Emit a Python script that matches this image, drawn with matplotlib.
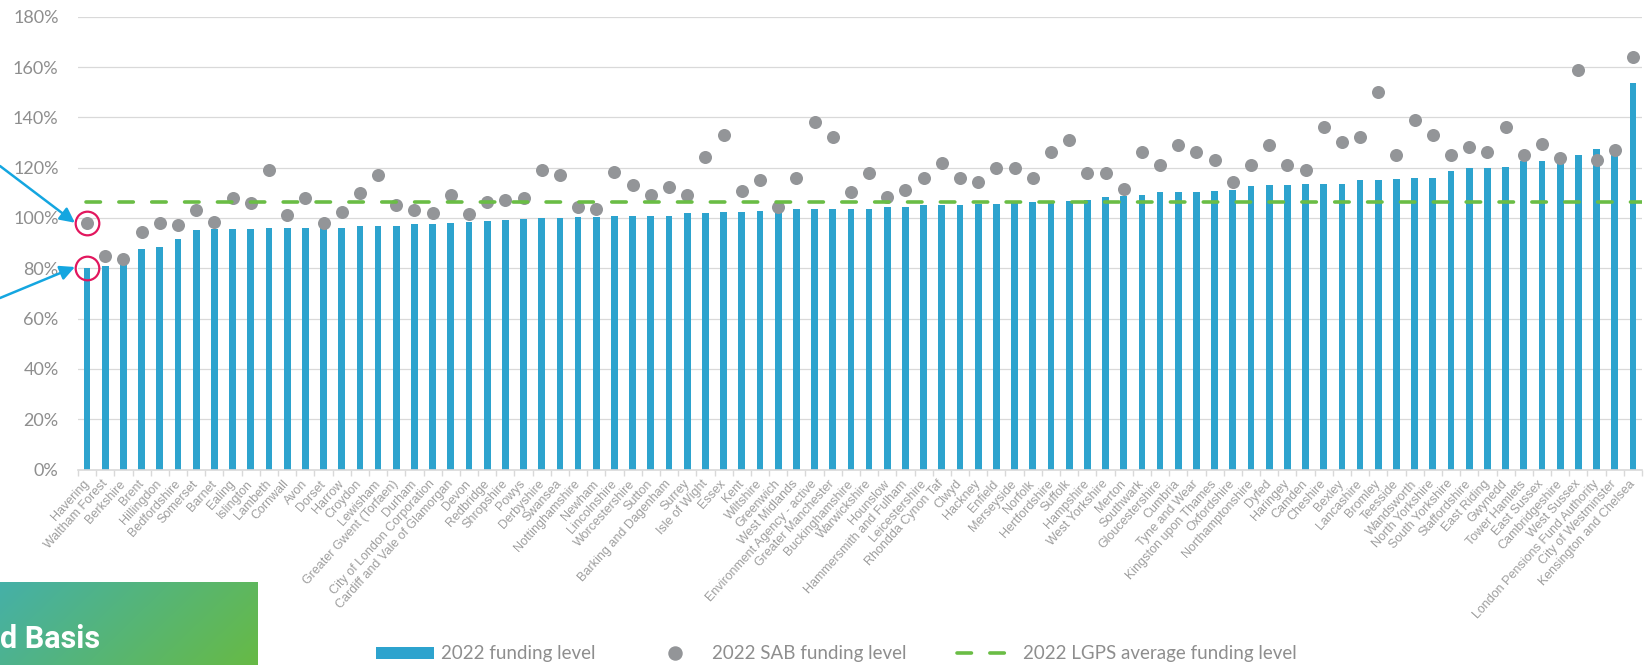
import matplotlib
matplotlib.use("Agg")
import matplotlib.pyplot as plt
import numpy as np
from matplotlib.lines import Line2D
from matplotlib.patches import Patch

# --- data -------------------------------------------------------------------
funds = [
    "Havering", "Waltham Forest", "Berkshire", "Brent", "Hillingdon",
    "Bedfordshire", "Somerset", "Barnet", "Ealing", "Islington", "Lambeth",
    "Cornwall", "Avon", "Dorset", "Harrow", "Croydon", "Lewisham",
    "Greater Gwent (Torfaen)", "Durham", "City of London Corporation",
    "Cardiff and Vale of Glamorgan", "Devon", "Redbridge", "Shropshire",
    "Powys", "Derbyshire", "Swansea", "Nottinghamshire", "Newham",
    "Lincolnshire", "Worcestershire", "Sutton", "Barking and Dagenham",
    "Surrey", "Isle of Wight", "Essex", "Kent", "Wiltshire", "Greenwich",
    "West Midlands", "Environment Agency - active", "Greater Manchester",
    "Buckinghamshire", "Warwickshire", "Hounslow", "Hammersmith and Fulham",
    "Leicestershire", "Rhondda Cynon Taf", "Clwyd", "Hackney", "Enfield",
    "Merseyside", "Norfolk", "Hertfordshire", "Suffolk", "Hampshire",
    "West Yorkshire", "Merton", "Southwark", "Gloucestershire", "Cumbria",
    "Tyne and Wear", "Kingston upon Thames", "Oxfordshire",
    "Northamptonshire", "Dyfed", "Haringey", "Camden", "Cheshire", "Bexley",
    "Lancashire", "Bromley", "Teesside", "Wandsworth", "North Yorkshire",
    "South Yorkshire", "Staffordshire", "East Riding", "Gwynedd",
    "Tower Hamlets", "East Sussex", "Cambridgeshire", "West Sussex",
    "London Pensions Fund Authority", "City of Westminster",
    "Kensington and Chelsea",
]

funding_2022 = [
    80.0, 81.0, 82.5, 87.5, 88.3, 91.5, 95.2, 95.5, 95.6, 95.6,
    95.9, 95.9, 95.9, 96.0, 96.1, 96.6, 96.9, 96.9, 97.4, 97.6,
    98.1, 98.5, 98.9, 99.2, 99.4, 100.0, 100.1, 100.2, 100.2, 100.6,
    100.6, 100.8, 100.8, 101.9, 102.1, 102.3, 102.5, 102.6, 103.0, 103.4,
    103.5, 103.5, 103.5, 103.5, 104.5, 104.5, 105.0, 105.0, 105.3, 105.6,
    105.7, 105.9, 106.2, 106.4, 106.6, 107.1, 108.3, 108.8, 109.1, 110.2,
    110.3, 110.3, 110.9, 111.1, 112.7, 112.9, 112.9, 113.5, 113.5, 113.6,
    114.9, 115.1, 115.6, 115.7, 116.0, 118.6, 120.0, 120.0, 120.3, 122.6,
    122.6, 122.6, 125.0, 127.4, 127.6, 153.7,
]

sab_2022 = [
    98.1, 85.0, 83.5, 94.3, 98.1, 97.0, 103.3, 98.2, 108.0, 106.0,
    119.0, 101.0, 108.0, 98.1, 102.2, 110.0, 117.0, 105.1, 103.1, 102.1,
    109.1, 101.7, 106.2, 107.1, 108.0, 119.0, 117.0, 104.2, 103.5, 118.2,
    113.1, 109.1, 112.2, 109.1, 124.1, 132.9, 110.8, 114.9, 104.5, 116.0,
    138.0, 132.2, 110.3, 118.0, 108.4, 111.1, 116.0, 121.9, 116.0, 114.1,
    120.0, 120.0, 116.0, 126.1, 131.0, 118.0, 118.0, 111.5, 126.1, 121.0,
    129.1, 126.1, 123.0, 114.1, 121.0, 129.1, 121.0, 119.0, 136.0, 130.0,
    132.0, 150.0, 125.0, 138.8, 133.1, 125.0, 128.1, 126.1, 136.0, 125.0,
    129.4, 123.7, 158.9, 123.1, 127.0, 164.0,
]

lgps_average = 106.5

BLUE = "#2DA3CE"
GREY_DOT = "#939598"
GREEN = "#6ABD45"
TEXT_GREY = "#8E8E8E"
GRID = "#D9D9D9"
DASHES = [4.0, 5.1]  # in linewidth units

W, H = 1644, 665
fig = plt.figure(figsize=(W / 100, H / 100), dpi=100)
ax = fig.add_axes([78 / W, (H - 469.5) / H, (1642 - 78) / W, (469.5 - 16.7) / H])

x = np.arange(len(funds))
ax.bar(x, funding_2022, width=0.37, color=BLUE, zorder=2,
       label="2022 funding level")
ax.scatter(x, sab_2022, s=88, color=GREY_DOT, zorder=3, linewidths=0,
           label="2022 SAB funding level")
avg_line, = ax.plot([-0.05, len(funds) - 0.5], [lgps_average] * 2, color=GREEN,
                    lw=2.6, dash_capstyle="round", zorder=4,
                    label="2022 LGPS average funding level")
avg_line.set_dashes(DASHES)

ax.set_xlim(-0.5, len(funds) - 0.5)
ax.set_ylim(0, 180)
ax.set_yticks(range(0, 181, 20))
ax.set_yticklabels([f"{v}%" for v in range(0, 181, 20)],
                   fontfamily="Lato", fontsize=13, color=TEXT_GREY)
ax.tick_params(axis="y", length=0, pad=14)
ax.yaxis.grid(True, color=GRID, lw=0.9, zorder=0)
ax.set_axisbelow(True)

ax.set_xticks(x)
ax.set_xticklabels(funds, rotation=48, ha="right", va="center",
                   rotation_mode="anchor", fontfamily="Liberation Sans",
                   fontsize=9, color="#9E9E9E")
ax.tick_params(axis="x", length=0, pad=9)
ax.set_xticks(np.arange(-0.5, len(funds)), minor=True)
ax.tick_params(axis="x", which="minor", length=4, color=GRID, width=1)

for side in ("top", "right", "left"):
    ax.spines[side].set_visible(False)
ax.spines["bottom"].set_color(GRID)
ax.spines["bottom"].set_linewidth(1.2)

# highlight Havering
ring = dict(marker="o", ms=17, mfc="none", mec="#E2175E", mew=1.6,
            ls="none", clip_on=False, zorder=5)
ax.plot([0], [sab_2022[0]], **ring)
ax.plot([0], [funding_2022[0]], **ring)
arrow = dict(arrowstyle="-|>", color="#14A6E0", lw=1.8, mutation_scale=22,
             shrinkA=0, shrinkB=0)
ax.annotate("", xy=(-0.67, sab_2022[0]), xytext=(0, H - 166),
            textcoords="figure pixels", arrowprops=arrow,
            annotation_clip=False)
ax.annotate("", xy=(-0.67, funding_2022[0] + 0.5), xytext=(0, H - 298),
            textcoords="figure pixels", arrowprops=arrow,
            annotation_clip=False)

# legend
handles = [
    Patch(facecolor=BLUE, edgecolor="none"),
    Line2D([], [], ls="none", marker="o", ms=9.4, color=GREY_DOT),
    Line2D([], [], color=GREEN, lw=2.6, dashes=DASHES, dash_capstyle="round"),
]
leg = fig.legend(handles, ["2022 funding level", "2022 SAB funding level",
                           "2022 LGPS average funding level"],
                 loc="center", bbox_to_anchor=(836 / W, (H - 654) / H),
                 ncol=3, frameon=False, handlelength=3.1, handleheight=0.6,
                 handletextpad=0.4, columnspacing=2.7, borderpad=0,
                 prop={"family": "Lato", "size": 13.5})
for t in leg.get_texts():
    t.set_color(TEXT_GREY)

# gradient title box (bottom left)
box = fig.add_axes([0, 0, 257 / W, (H - 582) / H])
grad = np.linspace(0, 1, 256)
gx, gy = np.meshgrid(grad, grad[::-1])
mix = np.clip(0.75 * gx + 0.25 * (1 - gy), 0, 1)
c0 = np.array([0x45, 0xB0, 0xA8]) / 255
c1 = np.array([0x67, 0xBA, 0x45]) / 255
img = c0[None, None, :] * (1 - mix[..., None]) + c1[None, None, :] * mix[..., None]
box.imshow(img, aspect="auto", extent=[0, 1, 0, 1])
box.axis("off")
fig.text(0, (H - 648) / H, "d Basis", color="white", fontsize=22,
         fontweight="bold", fontfamily="Roboto", va="baseline", ha="left")

fig.savefig("out.png", dpi=100)
